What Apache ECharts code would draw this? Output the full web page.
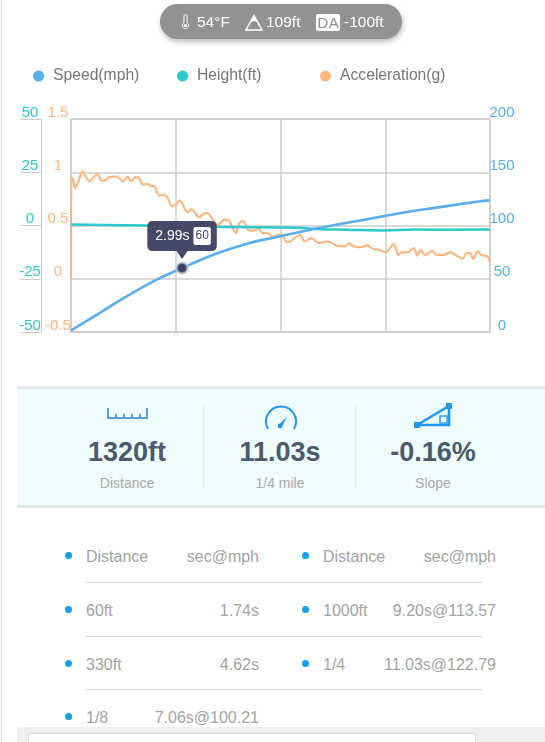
<!DOCTYPE html>
<html><head><meta charset="utf-8">
<style>
html,body{margin:0;padding:0;background:#fff;width:545px;height:742px;overflow:hidden;font-family:"Liberation Sans",Arial,sans-serif}
.a{position:absolute;white-space:nowrap}
#chart{position:absolute;left:0;top:0;width:545px;height:380px}
.st{color:#4c5a6d;font-weight:bold;font-size:27px;width:150px;text-align:center;top:437px}
.sl{color:#aaa;font-size:14px;width:150px;text-align:center;top:475px}
.t{color:#a3a3a3;font-size:16px}
.dot{width:7px;height:7px;border-radius:50%;background:#11a0ec}
.ln{height:1px;background:#d8d8d8;left:86px;width:397px}
</style>
<script src="https://cdn.jsdelivr.net/npm/echarts@6/dist/echarts.min.js"></script>
</head><body>
<div class="a" style="left:1px;top:0;width:1px;height:742px;background:#ddd"></div>
<div id="chart"></div>

<div class="a" style="left:160px;top:4px;width:242px;height:35px;border-radius:18px;background:#929292;box-shadow:1px 3px 5px rgba(0,0,0,.25)"></div>
<svg class="a" style="left:180px;top:14px" width="11" height="16" viewBox="0 0 14 20"><path d="M5 2.5a2 2 0 0 1 4 0V11a4 4 0 1 1-4 0z" fill="none" stroke="#fff" stroke-width="1.2"/><circle cx="7" cy="14.5" r="2" fill="#fff"/></svg>
<div class="a" style="left:197px;top:13px;color:#fff;font-size:15.5px">54°F</div>
<svg class="a" style="left:245px;top:14px" width="18" height="17" viewBox="0 0 18 17"><path d="M9 1.5L17 16H1z" fill="none" stroke="#fff" stroke-width="1.4"/><path d="M9 1.5L12.5 8 9 7 6 8z" fill="#fff"/></svg>
<div class="a" style="left:266px;top:13px;color:#fff;font-size:15.5px">109ft</div>
<div class="a" style="left:316px;top:14px;width:24px;height:17px;line-height:17px;background:#fff;color:#929292;border-radius:2px;font-size:15.5px;text-align:center">DA</div>
<div class="a" style="left:344px;top:13px;color:#fff;font-size:15.5px">-100ft</div>

<div class="a" style="left:17px;top:386px;width:528px;height:122px;box-sizing:border-box;background:#effcfd;border-top:3px solid #dfe9e8;border-bottom:3px solid #dfe9e8"></div>
<div class="a" style="left:203px;top:404px;width:1px;height:86px;background:#e2ecec"></div>
<div class="a" style="left:355px;top:404px;width:1px;height:86px;background:#e2ecec"></div>
<svg class="a" style="left:107px;top:408px" width="41" height="11" viewBox="0 0 41 11"><path d="M1 0v10h39V0M9 6v4M17 6v4M25 6v4M33 6v4" fill="none" stroke="#5b9fdc" stroke-width="2"/></svg>
<svg class="a" style="left:264px;top:404px" width="34" height="26" viewBox="0 0 34 26"><path d="M4 25A15 15 0 1 1 30 25" fill="none" stroke="#2196f3" stroke-width="2"/><path d="M15 21L23 12 18 23z" fill="#2196f3"/><circle cx="16" cy="22" r="2.4" fill="#2196f3"/></svg>
<svg class="a" style="left:414px;top:403px" width="38" height="26" viewBox="0 0 38 26"><path d="M3 22L35 3V22z" fill="none" stroke="#2196f3" stroke-width="2.6"/><rect x="26" y="13" width="7" height="7" fill="none" stroke="#2196f3" stroke-width="1.4"/><rect x="0" y="19" width="6" height="6" fill="#2196f3"/><rect x="32" y="0" width="6" height="6" fill="#2196f3"/></svg>
<div id="stats"></div>
<div id="list"></div>
<div class="a" style="left:17px;top:727px;width:528px;height:15px;background:#efefef"></div>
<div class="a" style="left:28px;top:733px;width:446px;height:12px;background:#fff;border:1px solid #ddd;border-radius:4px"></div>

<script>
// Seconds and mph
var speedTime = [0,0.67,1.47,2.24,2.79,2.99,3.9,4.8,5.59,6.51,7.06,8.43,9.2,9.84,11.03,11.27];
var speedMph  = [1.6,15.6,33,48,57,60,73.5,83.5,89.5,96.5,100.2,108.8,113.6,116.8,122.8,123.6];
// Seconds and feet
var heightTime = [0,2.0,3.9,5.59,6.06,6.6,7.41,8.4,9.3,10.2,11.27];
var heightFt   = [0.5,0,-0.6,-0.9,-1,-1.6,-2,-2.3,-1.9,-2,-1.9];
// Seconds and g
var accelTime = [0,0.01,0.045,0.11,0.2,0.31,0.4,0.5,0.62,0.71,0.83,0.94,1.04,1.22,1.4,1.52,1.61,1.74,1.83,1.94,2.06,2.15,2.24,2.37,2.51,2.6,2.72,2.81,2.93,3.05,3.14,3.23,3.32,3.45,3.59,3.68,3.81,3.95,4.13,4.26,4.33,4.44,4.53,4.64,4.76,4.89,5.05,5.16,5.3,5.43,5.57,5.69,5.81,5.9,6.02,6.17,6.29,6.47,6.67,6.92,7.16,7.39,7.49,7.6,7.8,7.99,8.13,8.31,8.47,8.69,8.81,8.9,9.05,9.23,9.32,9.41,9.53,9.73,9.84,10.03,10.22,10.38,10.54,10.65,10.74,10.83,10.94,11.05,11.21,11.27];
var accelG    = [0,0.945,0.945,0.85,0.915,1.01,0.955,0.915,0.955,0.985,0.92,0.93,0.955,0.96,0.915,0.96,0.915,0.955,0.945,0.885,0.89,0.87,0.87,0.78,0.79,0.76,0.68,0.695,0.735,0.665,0.625,0.655,0.63,0.575,0.615,0.615,0.56,0.505,0.555,0.545,0.491,0.429,0.523,0.538,0.46,0.45,0.47,0.429,0.429,0.388,0.413,0.407,0.344,0.35,0.382,0.413,0.35,0.382,0.335,0.35,0.31,0.305,0.338,0.304,0.297,0.313,0.279,0.272,0.247,0.325,0.225,0.247,0.247,0.288,0.216,0.272,0.225,0.263,0.225,0.225,0.25,0.216,0.188,0.241,0.241,0.185,0.257,0.222,0.21,0.163];
var seriesNames = ['Speed(mph)','Height(ft)','Acceleration(g)'];
var seriesColors = ['#58aeee','#2ccaca','#fdb680'];
var cursorTime = 2.99, cursorSpeed = 60;
var statValues = ['1320ft','11.03s','-0.16%'];
var statLabels = ['Distance','1/4 mile','Slope'];
var runRows = [
 ['Distance','sec@mph','Distance','sec@mph'],
 ['60ft','1.74s','1000ft','9.20s@113.57'],
 ['330ft','4.62s','1/4','11.03s@122.79'],
 ['1/8','7.06s@100.21',null,null]
];

function zip(a,b){return a.map(function(v,i){return [v,b[i]];});}
var grey='#cdcdcd';
var chart=echarts.init(document.getElementById('chart'),null,{renderer:'canvas'});
function lg(name,left){return {data:[name],left:left,top:63,icon:'circle',itemWidth:11,itemHeight:11,
  textStyle:{color:'#777',fontSize:15.7,fontFamily:'Liberation Sans',padding:[0,0,0,4]}};}
function yAxis(min,max,iv,pos,off,color,margin,tick){
  return {type:'value',min:min,max:max,interval:iv,position:pos,offset:off,
   axisLine:{show:tick,lineStyle:{color:grey,width:1}},
   axisTick:{show:tick,length:21,lineStyle:{color:grey,width:1}},
   splitLine:{show:false},
   axisLabel:{color:color,fontSize:15,fontFamily:'Liberation Sans',align:'center',verticalAlign:'bottom',lineHeight:13,margin:margin,hideOverlap:false}};
}
var ax0=yAxis(0,200,50,'right',0,seriesColors[0],12,false);
ax0.splitLine={show:true,lineStyle:{color:grey,width:1.5}};
chart.setOption({
 animation:false,
 legend:[lg(seriesNames[0],28),lg(seriesNames[1],172),lg(seriesNames[2],315)],
 grid:{left:71,right:55,top:119,bottom:48,containLabel:false,show:true,borderColor:grey,borderWidth:1.5,backgroundColor:'transparent'},
 xAxis:{type:'value',min:0,max:11.28,interval:2.82,axisLabel:{show:false},axisTick:{show:false},
   axisLine:{lineStyle:{color:grey,width:1.5}},splitLine:{show:true,lineStyle:{color:grey,width:1.5}}},
 yAxis:[ax0,
   yAxis(-50,50,25,'left',30,seriesColors[1],11,true),
   yAxis(-0.5,1.5,0.5,'left',0,seriesColors[2],13,false)],
 series:[
  {name:seriesNames[2],type:'line',yAxisIndex:2,data:zip(accelTime,accelG),showSymbol:false,smooth:0.3,z:2,
   lineStyle:{color:seriesColors[2],width:2.2},itemStyle:{color:seriesColors[2]}},
  {name:seriesNames[1],type:'line',yAxisIndex:1,data:zip(heightTime,heightFt),showSymbol:false,smooth:true,z:3,
   lineStyle:{color:seriesColors[1],width:2.5},itemStyle:{color:seriesColors[1]}},
  {name:seriesNames[0],type:'line',yAxisIndex:0,data:zip(speedTime,speedMph),showSymbol:false,smooth:true,z:4,
   lineStyle:{color:seriesColors[0],width:2.6},itemStyle:{color:seriesColors[0]},
   markPoint:{animation:false,silent:true,z:10,data:[
     {coord:[cursorTime,cursorSpeed],symbol:'triangle',symbolSize:[11,8],symbolRotate:180,symbolOffset:[0,-13],
      itemStyle:{color:'#454866'},label:{show:false}},
     {coord:[cursorTime,cursorSpeed],symbol:'circle',symbolSize:11,
      itemStyle:{color:'#3b3f62',borderColor:'rgba(200,208,228,.6)',borderWidth:3},
      label:{show:true,position:'top',distance:10,backgroundColor:'#454866',borderRadius:5,padding:[6,6,6,8],
       color:'#fff',fontSize:14,fontFamily:'Liberation Sans',
       formatter:'{t|'+cursorTime+'s} {b|'+cursorSpeed+'}',
       rich:{t:{color:'#fff',fontSize:14,fontFamily:'Liberation Sans',lineHeight:18},
             b:{color:'#454866',backgroundColor:'#fff',borderRadius:2,fontSize:12,fontFamily:'Liberation Sans',padding:[3,2,3,2],lineHeight:12}}}}
   ]}}
 ]
});

var centers=[52,205,358], html='';
statValues.forEach(function(v,i){
 html+='<div class="a st" style="left:'+centers[i]+'px">'+v+'</div><div class="a sl" style="left:'+centers[i]+'px">'+statLabels[i]+'</div>';
});
document.getElementById('stats').innerHTML=html;
var rowY=[556,610,664,717], h2='';
runRows.forEach(function(r,i){
 var y=rowY[i];
 h2+='<div class="a dot" style="left:65px;top:'+(y-4)+'px"></div>';
 h2+='<div class="a t" style="left:86px;top:'+(y-8)+'px">'+r[0]+'</div>';
 h2+='<div class="a t" style="right:286px;top:'+(y-8)+'px">'+r[1]+'</div>';
 if(r[2]){
  h2+='<div class="a dot" style="left:302px;top:'+(y-4)+'px"></div>';
  h2+='<div class="a t" style="left:323px;top:'+(y-8)+'px">'+r[2]+'</div>';
  h2+='<div class="a t" style="right:49px;top:'+(y-8)+'px">'+r[3]+'</div>';
 }
 if(i<3) h2+='<div class="a ln" style="top:'+[582,636,689][i]+'px"></div>';
});
document.getElementById('list').innerHTML=h2;
</script>
</body></html>
